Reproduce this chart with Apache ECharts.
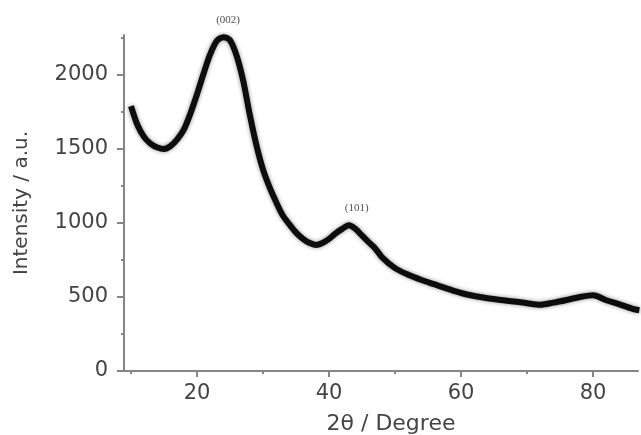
<!DOCTYPE html>
<html>
<head>
<meta charset="utf-8">
<script src="https://cdn.jsdelivr.net/npm/echarts@6/dist/echarts.min.js"></script>
<style>html,body{margin:0;padding:0;background:#fff}#c{width:641px;height:435px}</style>
</head>
<body>
<div id="c"></div>
<script>
const twoTheta = [10, 11, 12, 13, 14, 15, 16, 17, 18, 19, 20, 21, 22, 23, 24, 25, 26, 27, 28, 29,
  30, 31, 32, 33, 34, 35, 36, 37, 38, 39, 40, 41, 42, 43, 44, 45, 46, 47, 48, 50,
  52, 54, 56, 58, 60, 62, 64, 66, 68, 70, 72, 74, 76, 78, 80, 82, 84, 86, 87];
const intensity = [1790, 1660, 1580, 1535, 1510, 1500, 1520, 1565, 1630, 1740, 1870, 2010, 2140, 2230, 2255, 2235, 2130, 1960, 1730, 1525,
  1360, 1240, 1140, 1050, 990, 935, 895, 866, 852, 865, 893, 930, 960, 985, 960, 915, 870, 828, 770, 695,
  650, 615, 585, 555, 527, 507, 492, 480, 470, 458, 448, 462, 480, 500, 512, 478, 450, 420, 410];
const peakLabels = ['(002)', '(101)'];
const peakX = [24.7, 44.2];
const peakY = [2255, 985];
const xMajorTicks = [20, 40, 60, 80];
const xMinorTicks = [10, 30, 50, 70];
const yMajorTicks = [0, 500, 1000, 1500, 2000];
const yMinorTicks = [250, 750, 1250, 1750, 2250];

const axisColor = '#858585';
const textColor = '#444444';
const fontFamily = 'DejaVu Sans';
const X_MIN = 8.94, X_MAX = 86.8, Y_MIN = 0, Y_MAX = 2270;

const chart = echarts.init(document.getElementById('c'), null, {renderer: 'canvas'});
chart.setOption({
  animation: false,
  backgroundColor: '#ffffff',
  grid: {left: 124, right: 3, top: 35, bottom: 64, containLabel: false, outerBoundsMode: 'none'},
  xAxis: [{
    type: 'value', min: X_MIN, max: X_MAX,
    name: '2θ / Degree', nameLocation: 'middle', nameGap: 42,
    nameTextStyle: {color: textColor, fontFamily: fontFamily, fontSize: 22, padding: [0, 0, 0, 20]},
    axisLine: {show: true, onZero: false, lineStyle: {color: axisColor, width: 2}},
    axisTick: {show: true, inside: false, length: 6, customValues: xMajorTicks, lineStyle: {color: axisColor, width: 2}},
    axisLabel: {customValues: xMajorTicks, formatter: v => String(v), color: textColor, fontFamily: fontFamily, fontSize: 21, margin: 12},
    splitLine: {show: false}
  }, {
    type: 'value', min: X_MIN, max: X_MAX, position: 'bottom', gridIndex: 0,
    axisLine: {show: false},
    axisTick: {show: true, inside: false, length: 3, customValues: xMinorTicks, lineStyle: {color: axisColor, width: 2}},
    axisLabel: {show: false},
    splitLine: {show: false}
  }],
  yAxis: [{
    type: 'value', min: Y_MIN, max: Y_MAX,
    name: 'Intensity / a.u.', nameLocation: 'middle', nameGap: 92,
    nameTextStyle: {color: textColor, fontFamily: fontFamily, fontSize: 20},
    axisLine: {show: true, onZero: false, lineStyle: {color: axisColor, width: 2}},
    axisTick: {show: true, inside: false, length: 7, customValues: yMajorTicks, lineStyle: {color: axisColor, width: 2}},
    axisLabel: {customValues: yMajorTicks, formatter: v => String(v), color: textColor, fontFamily: fontFamily, fontSize: 21, margin: 16},
    splitLine: {show: false}
  }, {
    type: 'value', min: Y_MIN, max: Y_MAX, position: 'left', gridIndex: 0,
    axisLine: {show: false},
    axisTick: {show: true, inside: false, length: 3, customValues: yMinorTicks, lineStyle: {color: axisColor, width: 2}},
    axisLabel: {show: false},
    splitLine: {show: false}
  }],
  series: [{
    type: 'line',
    xAxisIndex: 0, yAxisIndex: 0,
    data: twoTheta.map((x, i) => [x, intensity[i]]),
    showSymbol: false, smooth: 0.3,
    lineStyle: {color: '#0d0d0d', width: 6, shadowBlur: 4, shadowColor: 'rgba(0,0,0,0.45)'}
  }, {
    type: 'scatter',
    xAxisIndex: 0, yAxisIndex: 0,
    data: peakX.map((x, i) => ({value: [x, peakY[i]], name: peakLabels[i]})),
    symbolSize: 0,
    silent: true,
    clip: false,
    label: {show: true, position: 'top', distance: 12, formatter: p => p.name,
      color: '#222', fontFamily: 'Liberation Serif', fontSize: 11}
  }]
});
</script>
</body>
</html>
